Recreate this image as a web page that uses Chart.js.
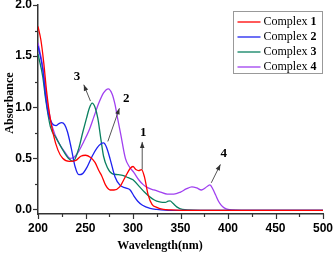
<!DOCTYPE html>
<html><head><meta charset="utf-8">
<script src="https://cdn.jsdelivr.net/npm/chart.js@4/dist/chart.umd.min.js"></script>
<style>html,body{margin:0;padding:0;background:#fff;}#wrap{width:333px;height:254px;position:relative;}</style>
</head><body><div id="wrap"><canvas id="c" width="333" height="254"></canvas></div>
<script>
// ---- data ----
const wavelength1 = [200,203,206,209,212,216,221,226,233,240,245,250,255,260,264,267,271,276,280,286,292,297,300,303,306,309,312,316,320,325,332,340,360,400,450,500];
const absorbance1 = [1.79,1.66,1.44,1.16,0.94,0.74,0.58,0.50,0.47,0.48,0.52,0.53,0.51,0.46,0.38,0.33,0.24,0.19,0.19,0.22,0.32,0.40,0.42,0.39,0.38,0.39,0.32,0.14,0.05,0.02,0.0,-0.005,-0.01,-0.01,-0.01,-0.01];

const wavelength2 = [200,205,208,211,215,219,222,225,228,231,235,239,243,247,252,257,262,266,269,272,276,281,286,292,297,301,305,310,318,325,340,400,500];
const absorbance2 = [1.60,1.37,1.11,0.93,0.84,0.82,0.84,0.85,0.83,0.76,0.60,0.42,0.34,0.35,0.42,0.52,0.60,0.64,0.65,0.61,0.49,0.32,0.24,0.21,0.19,0.13,0.08,0.04,0.01,0.0,-0.01,-0.01,-0.01];

const wavelength3 = [200,205,208,213,219,225,232,237,243,247,251,254,257,260,263,266,269,273,278,284,290,295,300,307,312,318,323,327,331,334,337,339,342,346,352,380,500];
const absorbance3 = [1.52,1.30,1.08,0.81,0.70,0.60,0.50,0.47,0.60,0.75,0.89,0.99,1.04,1.00,0.89,0.70,0.52,0.41,0.35,0.34,0.33,0.31,0.29,0.22,0.17,0.12,0.09,0.075,0.068,0.068,0.08,0.083,0.06,0.025,0.0,-0.01,-0.01];

const wavelength4 = [200,205,210,215,222,229,234,238,243,248,254,259,264,269,274,278,281,284,287,292,296,301,306,311,316,322,329,336,343,350,356,362,367,372,376,381,384,387,390,393,396,400,420,500];
const absorbance4 = [1.63,1.40,1.04,0.81,0.65,0.55,0.50,0.51,0.57,0.66,0.78,0.91,1.04,1.14,1.18,1.13,1.03,0.88,0.74,0.50,0.42,0.36,0.29,0.24,0.21,0.19,0.17,0.15,0.15,0.17,0.20,0.22,0.21,0.19,0.21,0.24,0.20,0.14,0.08,0.04,0.015,0.0,-0.01,-0.01];

const seriesPrefix = 'Complex ';
const seriesNumbers = ['1','2','3','4'];
const xTickValues = [200,250,300,350,400,450,500];
const xMinorTickValues = [225,275,325,375,425,475];
const yTickValues = [0.0,0.5,1.0,1.5,2.0];
const yMinorTickValues = [0.25,0.75,1.25,1.75];
const xTitle = 'Wavelength(nm)';
const yTitle = 'Absorbance';

// annotation labels with arrows (data coordinates)
const annotationLabels = ['1','2','3','4'];
const annotationTextPos = [[310.7,0.75],[292.8,1.08],[241.1,1.30],[395.4,0.55]];
const annotationArrowFrom = [[309.7,0.39],[273.5,0.665],[255.2,1.06],[382.4,0.26]];
const annotationArrowTo = [[309.7,0.66],[285.7,0.99],[248.2,1.22],[392.0,0.44]];

const colors = ['#ff0000','#1e22f0','#0a8060','#a040f0'];
const pairs = (xs, ys) => xs.map((x,i)=>({x:x, y:ys[i]}));
const wl = [wavelength1,wavelength2,wavelength3,wavelength4];
const ab = [absorbance1,absorbance2,absorbance3,absorbance4];

const datasets = wl.map((w,i)=>({
  label: seriesPrefix + seriesNumbers[i],
  data: pairs(w, ab[i]),
  borderColor: colors[i],
  backgroundColor: colors[i],
  borderWidth: 1.3,
  pointRadius: 0,
  fill: false,
  cubicInterpolationMode: 'monotone'
}));

const serif = '"Liberation Serif", "Times New Roman", serif';
const sans = '"Liberation Sans", Arial, sans-serif';

const decorPlugin = {
  id: 'decor',
  afterDraw(chart) {
    const ctx = chart.ctx;
    const xs = chart.scales.x, ys = chart.scales.y;
    const ca = chart.chartArea;
    ctx.save();
    // tick marks
    ctx.strokeStyle = '#333';
    ctx.lineWidth = 1.2;
    const xt = (v, len) => { const p = Math.round(xs.getPixelForValue(v))+0.5; ctx.beginPath(); ctx.moveTo(p, ca.bottom); ctx.lineTo(p, ca.bottom+len); ctx.stroke(); };
    const yt = (v, len) => { const p = Math.round(ys.getPixelForValue(v))+0.5; ctx.beginPath(); ctx.moveTo(ca.left, p); ctx.lineTo(ca.left-len, p); ctx.stroke(); };
    xTickValues.forEach(v=>xt(v,5)); xMinorTickValues.forEach(v=>xt(v,3));
    yTickValues.forEach(v=>yt(v,5)); yMinorTickValues.forEach(v=>yt(v,3));

    // axis titles
    ctx.fillStyle = '#000';
    ctx.font = 'bold 12px ' + serif;
    ctx.textAlign = 'center';
    ctx.textBaseline = 'middle';
    ctx.fillText(xTitle, 160, 246);
    ctx.save();
    ctx.translate(10, 103);
    ctx.rotate(-Math.PI/2);
    ctx.fillText(yTitle, 0, 0);
    ctx.restore();

    // annotations
    ctx.font = 'bold 13px ' + serif;
    annotationLabels.forEach((t,i)=>{
      const tx = xs.getPixelForValue(annotationTextPos[i][0]);
      const ty = ys.getPixelForValue(annotationTextPos[i][1]);
      ctx.fillStyle = '#000';
      ctx.fillText(t, tx, ty);
      const x1 = xs.getPixelForValue(annotationArrowFrom[i][0]);
      const y1 = ys.getPixelForValue(annotationArrowFrom[i][1]);
      const x2 = xs.getPixelForValue(annotationArrowTo[i][0]);
      const y2 = ys.getPixelForValue(annotationArrowTo[i][1]);
      ctx.strokeStyle = '#555';
      ctx.lineWidth = 1;
      ctx.beginPath(); ctx.moveTo(x1,y1); ctx.lineTo(x2,y2); ctx.stroke();
      const ang = Math.atan2(y2-y1, x2-x1);
      const hl = 6, hw = 2.3;
      ctx.fillStyle = '#333';
      ctx.beginPath();
      ctx.moveTo(x2, y2);
      ctx.lineTo(x2 - hl*Math.cos(ang) + hw*Math.sin(ang), y2 - hl*Math.sin(ang) - hw*Math.cos(ang));
      ctx.lineTo(x2 - hl*Math.cos(ang) - hw*Math.sin(ang), y2 - hl*Math.sin(ang) + hw*Math.cos(ang));
      ctx.closePath(); ctx.fill();
    });

    // legend
    const bw = 89, bh = 62;
    const bx = Math.round(ca.right - bw - 1) + 0.5, by = Math.round(ca.top + 6) + 0.5;
    ctx.fillStyle = '#fff';
    ctx.fillRect(bx, by, bw, bh);
    ctx.strokeStyle = '#999';
    ctx.lineWidth = 1;
    ctx.strokeRect(bx, by, bw, bh);
    ctx.textAlign = 'left';
    ctx.textBaseline = 'middle';
    datasets.forEach((d,i)=>{
      const ry = by + 10.5 + i*15;
      ctx.strokeStyle = colors[i];
      ctx.lineWidth = 1.3;
      ctx.beginPath(); ctx.moveTo(bx+4, ry); ctx.lineTo(bx+27, ry); ctx.stroke();
      ctx.fillStyle = '#000';
      ctx.font = '12px ' + serif;
      ctx.fillText(seriesPrefix, bx+30, ry);
      const w = ctx.measureText(seriesPrefix).width;
      ctx.font = 'bold 12px ' + serif;
      ctx.fillText(seriesNumbers[i], bx+30+w, ry);
    });
    ctx.restore();
  }
};

new Chart(document.getElementById('c'), {
  type: 'line',
  data: { datasets: datasets },
  options: {
    responsive: false,
    animation: false,
    layout: { padding: { top: 5, right: 10, bottom: 0, left: 0 } },
    plugins: { legend: { display: false }, tooltip: { enabled: false } },
    scales: {
      x: {
        type: 'linear', min: 200, max: 500,
        afterBuildTicks: s => { s.ticks = xTickValues.map(v=>({value:v})); },
        afterFit: s => { s.height = 40; s.paddingLeft = 0; s.paddingRight = 0; },
        ticks: { autoSkip: false, maxRotation: 0, padding: 7, color: '#000', font: { family: sans, weight: 'bold', size: 12 }, callback: v => String(v) },
        grid: { display: false, drawTicks: false },
        border: { display: true, color: '#333', width: 1.5 }
      },
      y: {
        type: 'linear', min: -0.045, max: 2.0,
        afterBuildTicks: s => { s.ticks = yTickValues.map(v=>({value:v})); },
        afterFit: s => { s.width = 38; s.paddingTop = 0; s.paddingBottom = 0; },
        ticks: { autoSkip: false, padding: 6, color: '#000', font: { family: sans, weight: 'bold', size: 12 }, callback: v => Number(v).toFixed(1) },
        grid: { display: false, drawTicks: false },
        border: { display: true, color: '#333', width: 1.5 }
      }
    }
  },
  plugins: [decorPlugin]
});
</script>
</body></html>
